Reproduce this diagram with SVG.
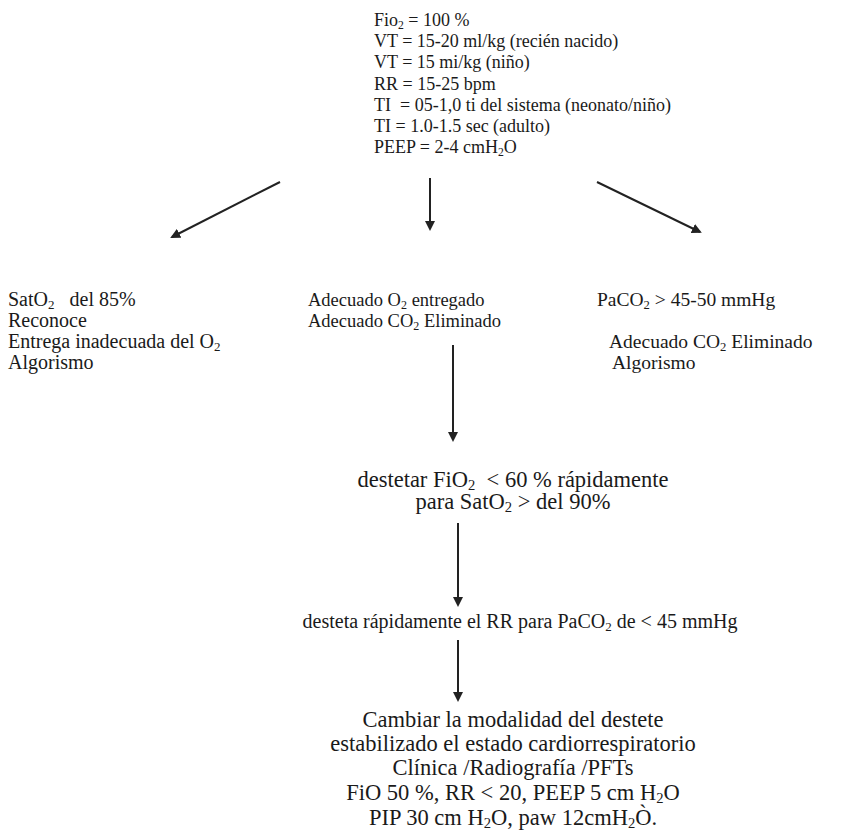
<svg xmlns="http://www.w3.org/2000/svg" width="851" height="834" viewBox="0 0 851 834">
<style>
text { font-family: "Liberation Serif", "Times New Roman", serif; fill: #1a1a1a; }
.t { font-size: 18px; }
.l { font-size: 20px; }
.md { font-size: 18.5px; }
.r { font-size: 19.5px; }
.w1 { font-size: 22.5px; }
.w2 { font-size: 20px; }
.b { font-size: 22.5px; }
.m { text-anchor: middle; }
.sub { font-size: 65%; baseline-shift: -3px; }
.conn line { stroke: #222; stroke-width: 2; }
</style>
<defs>
<marker id="ah" markerWidth="10" markerHeight="10" refX="8" refY="5" orient="auto" markerUnits="userSpaceOnUse">
<path d="M0,0 L10,5 L0,10 Z" fill="#222"/>
</marker>
</defs>
<rect width="851" height="834" fill="#fff"/>
<g id="settings" class="t">
<text x="374" y="26">Fio<tspan class="sub">2</tspan> = 100 %</text>
<text x="374" y="47">VT = 15-20 ml/kg (recién nacido)</text>
<text x="374" y="68">VT = 15 mi/kg (niño)</text>
<text x="374" y="90">RR = 15-25 bpm</text>
<text x="374" y="111" xml:space="preserve">TI  = 05-1,0 ti del sistema (neonato/niño)</text>
<text x="374" y="132">TI = 1.0-1.5 sec (adulto)</text>
<text x="374" y="153">PEEP = 2-4 cmH<tspan class="sub">2</tspan>O</text>
</g>
<g id="left" class="l">
<text x="8" y="306" xml:space="preserve">SatO<tspan class="sub">2</tspan>   del 85%</text>
<text x="8" y="327">Reconoce</text>
<text x="8" y="348">Entrega inadecuada del O<tspan class="sub">2</tspan></text>
<text x="8" y="369">Algorismo</text>
</g>
<g id="middle" class="md">
<text x="308" y="306">Adecuado O<tspan class="sub">2</tspan> entregado</text>
<text x="308" y="327">Adecuado CO<tspan class="sub">2</tspan> Eliminado</text>
</g>
<g id="right" class="r">
<text x="597" y="306">PaCO<tspan class="sub">2</tspan> &gt; 45-50 mmHg</text>
<text x="609" y="348">Adecuado CO<tspan class="sub">2</tspan> Eliminado</text>
<text x="612" y="369">Algorismo</text>
</g>
<g id="wean-fio2" class="w1 m">
<text x="513" y="487" xml:space="preserve">destetar FiO<tspan class="sub">2</tspan>  &lt; 60 % rápidamente</text>
<text x="513" y="509">para SatO<tspan class="sub">2</tspan> &gt; del 90%</text>
</g>
<g id="wean-rr" class="w2 m">
<text x="520" y="628">desteta rápidamente el RR para PaCO<tspan class="sub">2</tspan> de &lt; 45 mmHg</text>
</g>
<g id="change-mode" class="b m">
<text x="513" y="727">Cambiar la modalidad del destete</text>
<text x="513" y="751">estabilizado el estado cardiorrespiratorio</text>
<text x="513" y="775">Clínica /Radiografía /PFTs</text>
<text x="513" y="800">FiO 50 %, RR &lt; 20, PEEP 5 cm H<tspan class="sub">2</tspan>O</text>
<text x="513" y="825">PIP 30 cm H<tspan class="sub">2</tspan>O, paw 12cmH<tspan class="sub">2</tspan>Ò.</text>
</g>
<g id="connectors" class="conn">
<line x1="280" y1="182" x2="172" y2="237" marker-end="url(#ah)"/>
<line x1="430" y1="178" x2="430" y2="229" marker-end="url(#ah)"/>
<line x1="597" y1="182" x2="700" y2="232" marker-end="url(#ah)"/>
<line x1="453" y1="345" x2="453" y2="440" marker-end="url(#ah)"/>
<line x1="458" y1="523" x2="458" y2="605" marker-end="url(#ah)"/>
<line x1="458" y1="640" x2="458" y2="700" marker-end="url(#ah)"/>
</g>
</svg>
